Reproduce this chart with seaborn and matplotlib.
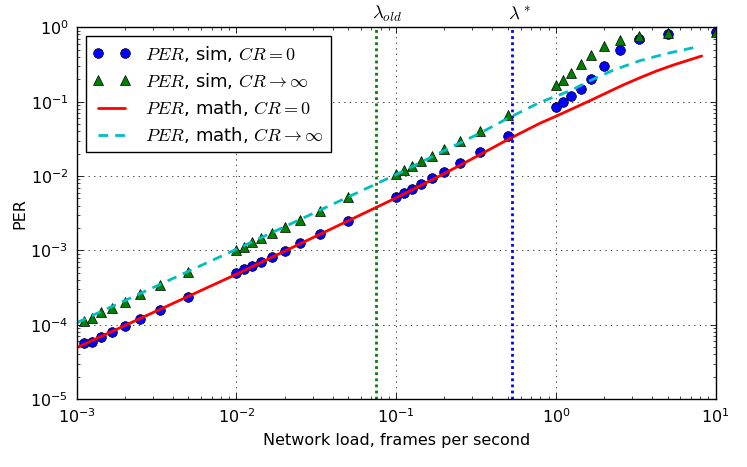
import matplotlib
matplotlib.use("Agg")
import matplotlib.pyplot as plt
import matplotlib.transforms as mtransforms
import seaborn as sns

# network load (frames per second) of the simulated points
load_sim = [0.001111, 0.00125, 0.001429, 0.001667, 0.002, 0.0025, 0.003333, 0.005,
            0.01, 0.01111, 0.0125, 0.01429, 0.01667, 0.02, 0.025, 0.03333, 0.05,
            0.1, 0.1111, 0.125, 0.1429, 0.1667, 0.2, 0.25, 0.3333, 0.5,
            1.0, 1.111, 1.25, 1.429, 1.667, 2.0, 2.5, 3.333, 5.0, 10.0]

per_sim_cr0 = [5.66e-5, 5.94e-5, 6.87e-5, 8.1e-5, 9.57e-5, 1.19e-4, 1.6e-4, 2.39e-4,
               4.94e-4, 5.58e-4, 6.19e-4, 7.0e-4, 8.1e-4, 9.85e-4, 1.25e-3, 1.67e-3, 2.52e-3,
               5.28e-3, 5.87e-3, 6.77e-3, 7.91e-3, 9.42e-3, 1.15e-2, 1.50e-2, 2.09e-2, 3.46e-2,
               0.0857, 0.100, 0.118, 0.150, 0.200, 0.305, 0.50, 0.69, 0.81, 0.865]

per_sim_crinf = [1.14e-4, 1.25e-4, 1.48e-4, 1.70e-4, 2.01e-4, 2.58e-4, 3.44e-4, 5.09e-4,
                 1.02e-3, 1.12e-3, 1.29e-3, 1.46e-3, 1.70e-3, 2.05e-3, 2.57e-3, 3.40e-3, 5.28e-3,
                 1.08e-2, 1.20e-2, 1.38e-2, 1.58e-2, 1.88e-2, 2.29e-2, 2.94e-2, 4.04e-2, 6.57e-2,
                 0.168, 0.196, 0.245, 0.321, 0.428, 0.56, 0.68, 0.77, 0.83, 0.865]

# analytical curves
load_math_cr0 = [0.001, 0.01, 0.1, 0.2, 0.333, 0.5, 0.794, 1.01, 1.285, 1.63, 2.08,
                 2.64, 3.36, 4.27, 5.43, 8.17]
per_math_cr0 = [4.94e-5, 4.8e-4, 5.1e-3, 1.08e-2, 1.93e-2, 0.031, 0.0513, 0.0643, 0.0815,
                0.103, 0.132, 0.168, 0.210, 0.259, 0.311, 0.411]

load_math_crinf = [0.001, 0.01, 0.1, 0.2, 0.333, 0.5, 0.794, 1.07, 1.285, 1.67, 2.30,
                   3.36, 4.9, 7.45]
per_math_crinf = [1.07e-4, 1.04e-3, 1.05e-2, 2.2e-2, 3.76e-2, 0.0598, 0.098, 0.125, 0.147,
                  0.196, 0.267, 0.356, 0.442, 0.539]

lambda_old = 0.075
lambda_star = 0.53

sns.set_style("ticks")
plt.rcParams["font.family"] = ["DejaVu Sans"]
plt.rcParams["mathtext.fontset"] = "cm"
plt.rcParams["text.color"] = "k"
plt.rcParams["axes.labelcolor"] = "k"

fig = plt.figure(figsize=(7.47, 4.67), dpi=100)
ax = fig.add_axes([0.1027, 0.145, 0.8554, 0.7966])
ax.set_xscale("log")
ax.set_yscale("log")

sns.lineplot(x=load_sim, y=per_sim_cr0, ax=ax, sort=False, estimator=None,
             marker="o", linestyle="none", color="#0000ff", markersize=7,
             markeredgecolor="k", markeredgewidth=0.5,
             label=r"$PER$, sim, $CR=0$")
sns.lineplot(x=load_sim, y=per_sim_crinf, ax=ax, sort=False, estimator=None,
             marker="^", linestyle="none", color="#008000", markersize=7.5,
             markeredgecolor="k", markeredgewidth=0.5,
             label=r"$PER$, sim, $CR\rightarrow\infty$")
sns.lineplot(x=load_math_cr0, y=per_math_cr0, ax=ax, sort=False, estimator=None,
             color="#ff0000", linewidth=2,
             label=r"$PER$, math, $CR=0$")
sns.lineplot(x=load_math_crinf, y=per_math_crinf, ax=ax, sort=False, estimator=None,
             color="#00bfbf", linewidth=2, dashes=False, linestyle=(0, (3.5, 2.5)),
             label=r"$PER$, math, $CR\rightarrow\infty$")

ax.axvline(lambda_old, color="#008000", linestyle=(0, (1, 1.2)), linewidth=2)
ax.axvline(lambda_star, color="#0000ff", linestyle=(0, (1, 1.2)), linewidth=2)

trans = mtransforms.blended_transform_factory(ax.transData, ax.transAxes)
ax.text(0.0705, 1.01, r"$\lambda_{old}$", transform=trans, ha="left", va="bottom", fontsize=13.5)
ax.text(0.50, 1.01, r"$\lambda^*$", transform=trans, ha="left", va="bottom", fontsize=13.5)

ax.set_xlim(1e-3, 1e1)
ax.set_ylim(1e-5, 1e0)
ax.grid(True, which="major", color="k", linestyle=(0, (2, 6)), linewidth=0.5)

ax.tick_params(which="both", direction="in", top=True, right=True, labelsize=11.5, colors="k")
ax.tick_params(which="major", length=4, width=0.6, pad=6)
ax.tick_params(which="minor", length=2, width=0.5)
for spine in ax.spines.values():
    spine.set_linewidth(1.0)
    spine.set_color("k")

ax.set_xlabel("Network load, frames per second", fontsize=11.5, labelpad=5)
ax.set_ylabel("PER", fontsize=11.5, labelpad=2)

leg = ax.legend(loc="upper left", numpoints=2, fancybox=False, framealpha=1,
                edgecolor="k", fontsize=13, borderaxespad=0.5, handlelength=2.1,
                labelspacing=0.4)
leg.get_frame().set_linewidth(1.0)

fig.savefig("out.png", dpi=100)
